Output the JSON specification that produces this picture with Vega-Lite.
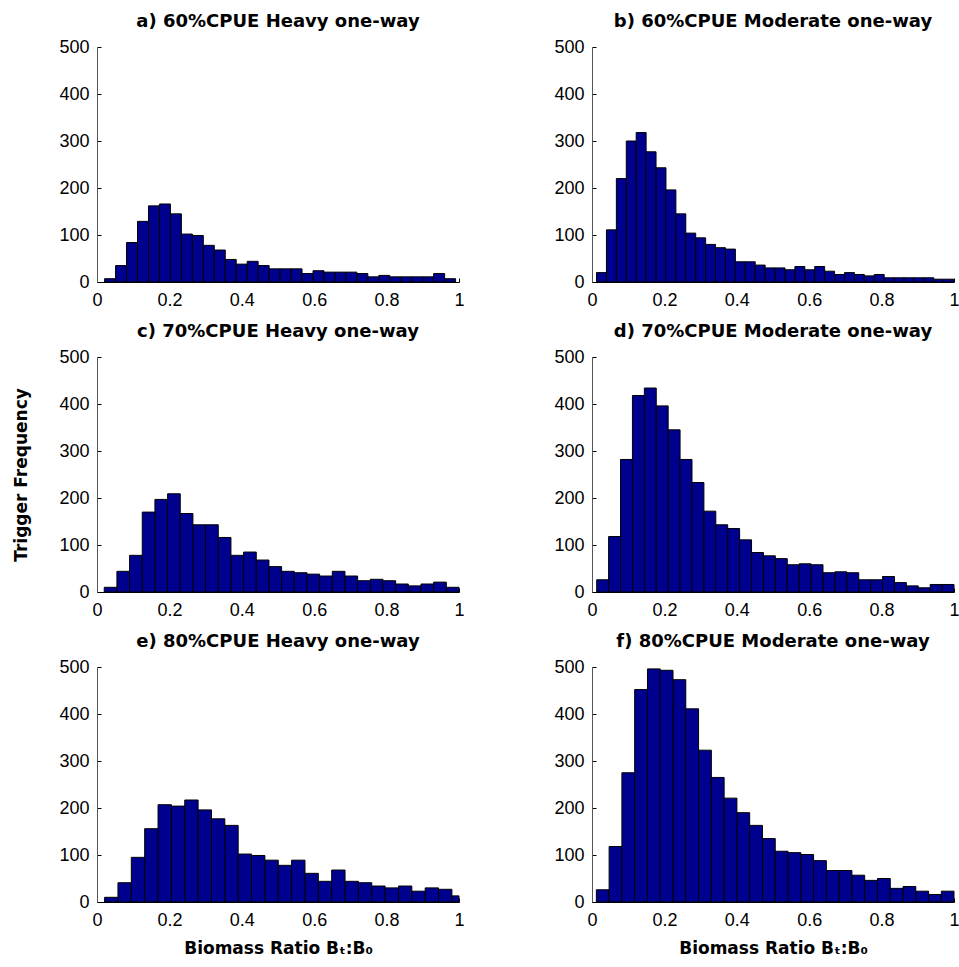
{
  "$schema": "https://vega.github.io/schema/vega-lite/v6.json",
  "padding": {"left": 12, "top": 13, "right": 5, "bottom": 3},
  "background": "white",
  "datasets": {
    "a": [
      {"s":0.021,"e":0.0513,"n":7},{"s":0.0513,"e":0.0816,"n":35},{"s":0.0816,"e":0.1119,"n":84},{"s":0.1119,"e":0.1422,"n":129},
      {"s":0.1422,"e":0.1725,"n":162},{"s":0.1725,"e":0.2028,"n":166},{"s":0.2028,"e":0.2331,"n":145},{"s":0.2331,"e":0.2634,"n":102},
      {"s":0.2634,"e":0.2937,"n":99},{"s":0.2937,"e":0.324,"n":78},{"s":0.324,"e":0.3543,"n":68},{"s":0.3543,"e":0.3846,"n":48},
      {"s":0.3846,"e":0.4149,"n":38},{"s":0.4149,"e":0.4452,"n":44},{"s":0.4452,"e":0.4755,"n":35},{"s":0.4755,"e":0.5058,"n":28},
      {"s":0.5058,"e":0.5361,"n":28},{"s":0.5361,"e":0.5664,"n":28},{"s":0.5664,"e":0.5967,"n":18},{"s":0.5967,"e":0.627,"n":24},
      {"s":0.627,"e":0.6573,"n":21},{"s":0.6573,"e":0.6876,"n":21},{"s":0.6876,"e":0.7179,"n":21},{"s":0.7179,"e":0.7482,"n":18},
      {"s":0.7482,"e":0.7785,"n":11},{"s":0.7785,"e":0.8088,"n":14},{"s":0.8088,"e":0.8391,"n":11},{"s":0.8391,"e":0.8694,"n":11},
      {"s":0.8694,"e":0.8997,"n":11},{"s":0.8997,"e":0.93,"n":11},{"s":0.93,"e":0.9603,"n":18},{"s":0.9603,"e":0.9906,"n":7}
    ],
    "b": [
      {"s":0.0125,"e":0.0399,"n":20},{"s":0.0399,"e":0.0673,"n":111},{"s":0.0673,"e":0.0947,"n":220},{"s":0.0947,"e":0.1221,"n":300},
      {"s":0.1221,"e":0.1495,"n":318},{"s":0.1495,"e":0.1769,"n":277},{"s":0.1769,"e":0.2043,"n":243},{"s":0.2043,"e":0.2317,"n":196},
      {"s":0.2317,"e":0.2591,"n":145},{"s":0.2591,"e":0.2865,"n":104},{"s":0.2865,"e":0.3139,"n":94},{"s":0.3139,"e":0.3413,"n":80},
      {"s":0.3413,"e":0.3687,"n":73},{"s":0.3687,"e":0.3961,"n":70},{"s":0.3961,"e":0.4235,"n":43},{"s":0.4235,"e":0.4509,"n":43},
      {"s":0.4509,"e":0.4783,"n":36},{"s":0.4783,"e":0.5057,"n":30},{"s":0.5057,"e":0.5331,"n":30},{"s":0.5331,"e":0.5605,"n":26},
      {"s":0.5605,"e":0.5879,"n":33},{"s":0.5879,"e":0.6153,"n":26},{"s":0.6153,"e":0.6427,"n":33},{"s":0.6427,"e":0.6701,"n":23},
      {"s":0.6701,"e":0.6975,"n":16},{"s":0.6975,"e":0.7249,"n":20},{"s":0.7249,"e":0.7523,"n":16},{"s":0.7523,"e":0.7797,"n":13},
      {"s":0.7797,"e":0.8071,"n":16},{"s":0.8071,"e":0.8345,"n":9},{"s":0.8345,"e":0.8619,"n":9},{"s":0.8619,"e":0.8893,"n":9},
      {"s":0.8893,"e":0.9167,"n":9},{"s":0.9167,"e":0.9441,"n":9},{"s":0.9441,"e":0.9715,"n":6},{"s":0.9715,"e":0.9989,"n":6}
    ],
    "c": [
      {"s":0.02,"e":0.055,"n":10},{"s":0.055,"e":0.09,"n":44},{"s":0.09,"e":0.125,"n":78},{"s":0.125,"e":0.16,"n":170},
      {"s":0.16,"e":0.195,"n":197},{"s":0.195,"e":0.23,"n":209},{"s":0.23,"e":0.265,"n":167},{"s":0.265,"e":0.3,"n":143},
      {"s":0.3,"e":0.335,"n":143},{"s":0.335,"e":0.37,"n":116},{"s":0.37,"e":0.405,"n":78},{"s":0.405,"e":0.44,"n":85},
      {"s":0.44,"e":0.475,"n":68},{"s":0.475,"e":0.51,"n":54},{"s":0.51,"e":0.545,"n":44},{"s":0.545,"e":0.58,"n":41},
      {"s":0.58,"e":0.615,"n":38},{"s":0.615,"e":0.65,"n":34},{"s":0.65,"e":0.685,"n":44},{"s":0.685,"e":0.72,"n":34},
      {"s":0.72,"e":0.755,"n":24},{"s":0.755,"e":0.79,"n":27},{"s":0.79,"e":0.825,"n":24},{"s":0.825,"e":0.86,"n":17},
      {"s":0.86,"e":0.895,"n":13},{"s":0.895,"e":0.93,"n":17},{"s":0.93,"e":0.965,"n":21},{"s":0.965,"e":1.0,"n":10}
    ],
    "d": [
      {"s":0.013,"e":0.0459,"n":26},{"s":0.0459,"e":0.0788,"n":118},{"s":0.0788,"e":0.1117,"n":282},{"s":0.1117,"e":0.1446,"n":418},
      {"s":0.1446,"e":0.1775,"n":434},{"s":0.1775,"e":0.2104,"n":396},{"s":0.2104,"e":0.2433,"n":345},{"s":0.2433,"e":0.2762,"n":282},
      {"s":0.2762,"e":0.3091,"n":233},{"s":0.3091,"e":0.342,"n":172},{"s":0.342,"e":0.3749,"n":143},{"s":0.3749,"e":0.4078,"n":135},
      {"s":0.4078,"e":0.4407,"n":111},{"s":0.4407,"e":0.4736,"n":84},{"s":0.4736,"e":0.5065,"n":77},{"s":0.5065,"e":0.5394,"n":71},
      {"s":0.5394,"e":0.5723,"n":58},{"s":0.5723,"e":0.6052,"n":60},{"s":0.6052,"e":0.6381,"n":58},{"s":0.6381,"e":0.671,"n":41},
      {"s":0.671,"e":0.7039,"n":43},{"s":0.7039,"e":0.7368,"n":41},{"s":0.7368,"e":0.7697,"n":26},{"s":0.7697,"e":0.8026,"n":26},
      {"s":0.8026,"e":0.8355,"n":33},{"s":0.8355,"e":0.8684,"n":20},{"s":0.8684,"e":0.9013,"n":13},{"s":0.9013,"e":0.9342,"n":9},
      {"s":0.9342,"e":0.9671,"n":16},{"s":0.9671,"e":1.0,"n":16}
    ],
    "e": [
      {"s":0.021,"e":0.0579,"n":10},{"s":0.0579,"e":0.0948,"n":41},{"s":0.0948,"e":0.1317,"n":95},{"s":0.1317,"e":0.1686,"n":156},
      {"s":0.1686,"e":0.2055,"n":207},{"s":0.2055,"e":0.2424,"n":204},{"s":0.2424,"e":0.2793,"n":217},{"s":0.2793,"e":0.3162,"n":196},
      {"s":0.3162,"e":0.3531,"n":177},{"s":0.3531,"e":0.39,"n":163},{"s":0.39,"e":0.4269,"n":102},{"s":0.4269,"e":0.4638,"n":99},
      {"s":0.4638,"e":0.5007,"n":89},{"s":0.5007,"e":0.5376,"n":78},{"s":0.5376,"e":0.5745,"n":89},{"s":0.5745,"e":0.6114,"n":61},
      {"s":0.6114,"e":0.6483,"n":44},{"s":0.6483,"e":0.6852,"n":68},{"s":0.6852,"e":0.7221,"n":44},{"s":0.7221,"e":0.759,"n":41},
      {"s":0.759,"e":0.7959,"n":34},{"s":0.7959,"e":0.8328,"n":30},{"s":0.8328,"e":0.8697,"n":34},{"s":0.8697,"e":0.9066,"n":23},
      {"s":0.9066,"e":0.9435,"n":30},{"s":0.9435,"e":0.9804,"n":27},{"s":0.9804,"e":1.0,"n":13}
    ],
    "f": [
      {"s":0.012,"e":0.0473,"n":26},{"s":0.0473,"e":0.0826,"n":118},{"s":0.0826,"e":0.1179,"n":275},{"s":0.1179,"e":0.1532,"n":452},
      {"s":0.1532,"e":0.1885,"n":496},{"s":0.1885,"e":0.2238,"n":493},{"s":0.2238,"e":0.2591,"n":473},{"s":0.2591,"e":0.2944,"n":411},
      {"s":0.2944,"e":0.3297,"n":323},{"s":0.3297,"e":0.365,"n":265},{"s":0.365,"e":0.4003,"n":221},{"s":0.4003,"e":0.4356,"n":190},
      {"s":0.4356,"e":0.4709,"n":163},{"s":0.4709,"e":0.5062,"n":135},{"s":0.5062,"e":0.5415,"n":108},{"s":0.5415,"e":0.5768,"n":105},
      {"s":0.5768,"e":0.6121,"n":101},{"s":0.6121,"e":0.6474,"n":88},{"s":0.6474,"e":0.6827,"n":67},{"s":0.6827,"e":0.718,"n":67},
      {"s":0.718,"e":0.7533,"n":57},{"s":0.7533,"e":0.7886,"n":46},{"s":0.7886,"e":0.8239,"n":50},{"s":0.8239,"e":0.8592,"n":29},
      {"s":0.8592,"e":0.8945,"n":33},{"s":0.8945,"e":0.9298,"n":23},{"s":0.9298,"e":0.9651,"n":16},{"s":0.9651,"e":1.0,"n":23}
    ]
  },
  "columns": 2,
  "bounds": "flush",
  "spacing": {"row": 75, "column": 133},
  "concat": [
    {
      "title": "a) 60%CPUE Heavy one-way",
      "width": 362, "height": 235,
      "data": {"name": "a"},
      "mark": {"type": "bar", "fill": "#00008F", "stroke": "#000000", "strokeWidth": 1},
      "encoding": {
        "x": {"field": "s", "type": "quantitative", "scale": {"domain": [0, 1]}, "axis": {"title": null, "values": [0, 0.2, 0.4, 0.6, 0.8, 1]}},
        "x2": {"field": "e"},
        "y": {"field": "n", "type": "quantitative", "scale": {"domain": [0, 500]}, "axis": {"title": null, "values": [0, 100, 200, 300, 400, 500]}},
        "y2": {"datum": 0}
      }
    },
    {
      "title": "b) 60%CPUE Moderate one-way",
      "width": 362, "height": 235,
      "data": {"name": "b"},
      "mark": {"type": "bar", "fill": "#00008F", "stroke": "#000000", "strokeWidth": 1},
      "encoding": {
        "x": {"field": "s", "type": "quantitative", "scale": {"domain": [0, 1]}, "axis": {"title": null, "values": [0, 0.2, 0.4, 0.6, 0.8, 1]}},
        "x2": {"field": "e"},
        "y": {"field": "n", "type": "quantitative", "scale": {"domain": [0, 500]}, "axis": {"title": null, "values": [0, 100, 200, 300, 400, 500]}},
        "y2": {"datum": 0}
      }
    },
    {
      "title": "c) 70%CPUE Heavy one-way",
      "width": 362, "height": 235,
      "data": {"name": "c"},
      "mark": {"type": "bar", "fill": "#00008F", "stroke": "#000000", "strokeWidth": 1},
      "encoding": {
        "x": {"field": "s", "type": "quantitative", "scale": {"domain": [0, 1]}, "axis": {"title": null, "values": [0, 0.2, 0.4, 0.6, 0.8, 1]}},
        "x2": {"field": "e"},
        "y": {"field": "n", "type": "quantitative", "scale": {"domain": [0, 500]}, "axis": {"title": "Trigger Frequency", "values": [0, 100, 200, 300, 400, 500]}},
        "y2": {"datum": 0}
      }
    },
    {
      "title": "d) 70%CPUE Moderate one-way",
      "width": 362, "height": 235,
      "data": {"name": "d"},
      "mark": {"type": "bar", "fill": "#00008F", "stroke": "#000000", "strokeWidth": 1},
      "encoding": {
        "x": {"field": "s", "type": "quantitative", "scale": {"domain": [0, 1]}, "axis": {"title": null, "values": [0, 0.2, 0.4, 0.6, 0.8, 1]}},
        "x2": {"field": "e"},
        "y": {"field": "n", "type": "quantitative", "scale": {"domain": [0, 500]}, "axis": {"title": null, "values": [0, 100, 200, 300, 400, 500]}},
        "y2": {"datum": 0}
      }
    },
    {
      "title": "e) 80%CPUE Heavy one-way",
      "width": 362, "height": 235,
      "data": {"name": "e"},
      "mark": {"type": "bar", "fill": "#00008F", "stroke": "#000000", "strokeWidth": 1},
      "encoding": {
        "x": {"field": "s", "type": "quantitative", "scale": {"domain": [0, 1]}, "axis": {"title": "Biomass Ratio Bₜ:B₀", "values": [0, 0.2, 0.4, 0.6, 0.8, 1]}},
        "x2": {"field": "e"},
        "y": {"field": "n", "type": "quantitative", "scale": {"domain": [0, 500]}, "axis": {"title": null, "values": [0, 100, 200, 300, 400, 500]}},
        "y2": {"datum": 0}
      }
    },
    {
      "title": "f) 80%CPUE Moderate one-way",
      "width": 362, "height": 235,
      "data": {"name": "f"},
      "mark": {"type": "bar", "fill": "#00008F", "stroke": "#000000", "strokeWidth": 1},
      "encoding": {
        "x": {"field": "s", "type": "quantitative", "scale": {"domain": [0, 1]}, "axis": {"title": "Biomass Ratio Bₜ:B₀", "values": [0, 0.2, 0.4, 0.6, 0.8, 1]}},
        "x2": {"field": "e"},
        "y": {"field": "n", "type": "quantitative", "scale": {"domain": [0, 500]}, "axis": {"title": null, "values": [0, 100, 200, 300, 400, 500]}},
        "y2": {"datum": 0}
      }
    }
  ],
  "config": {
    "view": {"stroke": null},
    "font": "Liberation Sans",
    "axis": {
      "grid": false,
      "domain": true,
      "domainWidth": 1,
      "domainColor": "#000000",
      "tickColor": "#000000",
      "labelColor": "#000000",
      "labelFont": "Liberation Sans",
      "labelFontSize": 18,
      "labelFlush": false,
      "labelOverlap": false,
      "tickSize": -4,
      "titleFont": "DejaVu Sans",
      "titleFontSize": 17,
      "titleFontWeight": "bold",
      "titleColor": "#000000"
    },
    "axisX": {"labelPadding": 13, "format": "~g", "titlePadding": 11},
    "axisY": {"labelPadding": 12, "titlePadding": 28, "domainColor": "#555555"},
    "title": {"font": "DejaVu Sans", "fontSize": 18, "fontWeight": "bold", "color": "#000000", "offset": 7, "anchor": "middle", "frame": "group"}
  }
}
